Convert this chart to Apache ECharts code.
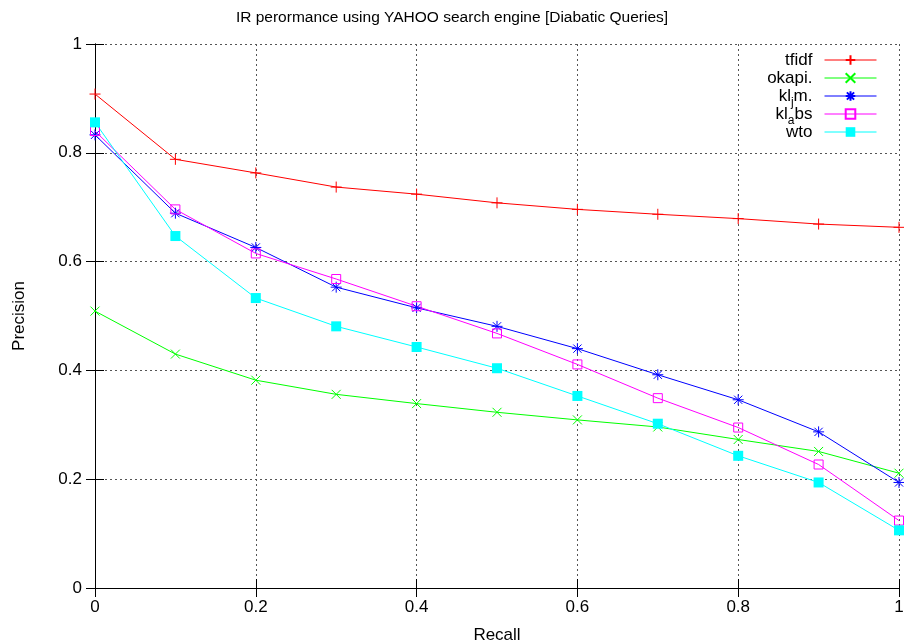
<!DOCTYPE html>
<html>
  <head>
    <meta charset="UTF-8">
    <title>IR performance</title>
    <script src="https://cdn.jsdelivr.net/npm/echarts@6/dist/echarts.min.js"></script>
    <style>
    * {
      margin: 0;
      padding: 0;
    }
    body {
      background: #fff;
    }
    </style>
  </head>
  <body>
    <div id="main" style="width: 904px;height: 644px"></div>
    <script>
// recall points shared by every curve
var recall = [0, 0.1, 0.2, 0.3, 0.4, 0.5, 0.6, 0.7, 0.8, 0.9, 1]

var tfidf = [0.908, 0.788, 0.763, 0.737, 0.724, 0.708, 0.696, 0.687, 0.679, 0.669, 0.663]
var okapi = [0.509, 0.430, 0.382, 0.356, 0.339, 0.323, 0.309, 0.296, 0.273, 0.251, 0.211]
var klJm = [0.833, 0.689, 0.626, 0.553, 0.515, 0.481, 0.440, 0.392, 0.346, 0.287, 0.194]
var klAbs = [0.840, 0.696, 0.615, 0.568, 0.518, 0.468, 0.411, 0.349, 0.295, 0.227, 0.124]
var wto = [0.856, 0.647, 0.533, 0.481, 0.443, 0.404, 0.353, 0.302, 0.243, 0.194, 0.106]

var seriesNames = ['tfidf', 'okapi.', 'kljm.', 'klabs', 'wto']
var legendLabels = {
  'kljm.': 'kl{sub|j}m.',
  'klabs': 'kl{sub|a}bs'
}

var FONT = '"Liberation Sans", Arial, sans-serif'

function pairs(ys) {
  return recall.map(function (x, i) { return [x, ys[i]] })
}

function makeSeries(name, ys, color, symbol, size, filled) {
  return {
    name: name,
    type: 'line',
    data: pairs(ys),
    symbol: symbol,
    symbolSize: size,
    showAllSymbol: true,
    animation: false,
    lineStyle: { color: color, width: 1 },
    itemStyle: {
      color: filled ? color : 'rgba(0,0,0,0)',
      borderColor: color,
      borderWidth: filled ? 0 : 1
    },
    emphasis: { disabled: true }
  }
}

var plusPath = 'path://M-1,0L1,0M0,-1L0,1'
var crossPath = 'path://M-1,-1L1,1M-1,1L1,-1'
var starPath = 'path://M-1,0L1,0M0,-1L0,1M-0.75,-0.75L0.75,0.75M-0.75,0.75L0.75,-0.75'
var boxPath = 'path://M-1,-1L1,-1L1,1L-1,1Z'

var myChart = echarts.init(document.getElementById('main'))

var axisCommon = {
  type: 'value',
  min: 0,
  max: 1,
  interval: 0.2,
  axisLine: { show: true, lineStyle: { color: '#000', width: 1 } },
  axisTick: { show: true, inside: true, length: 9, lineStyle: { color: '#000' } }
}

var option = {
  backgroundColor: '#fff',
  title: {
    text: 'IR perormance using YAHOO search engine [Diabatic Queries]',
    left: 'center',
    top: 5,
    textStyle: { fontFamily: FONT, fontSize: 15.5, fontWeight: 'normal', color: '#000' }
  },
  legend: {
    orient: 'vertical',
    right: 22,
    top: 42,
    align: 'right',
    itemWidth: 52,
    itemHeight: 12,
    itemGap: -8,
    data: seriesNames,
    lineStyle: { width: 1 },
    formatter: function (name) { return legendLabels[name] || name },
    textStyle: {
      fontFamily: FONT,
      fontSize: 17,
      lineHeight: 26,
      color: '#000',
      width: 70,
      align: 'right',
      padding: [0, 7, 0, 0],
      rich: {
        sub: { fontFamily: FONT, fontSize: 12, lineHeight: 6, verticalAlign: 'bottom', padding: [11, 0, 0, 0] }
      }
    }
  },
  grid: { left: 95, right: 5, top: 44, bottom: 56, containLabel: false, outerBoundsMode: 'none' },
  xAxis: [
    Object.assign({}, axisCommon, {
      position: 'bottom',
      name: 'Recall',
      nameLocation: 'middle',
      nameGap: 39,
      nameTextStyle: { fontFamily: FONT, fontSize: 17, color: '#000' },
      axisLabel: { fontFamily: FONT, fontSize: 17, color: '#000', margin: 11 },
      splitLine: { show: true, lineStyle: { color: '#555', type: [2, 3], width: 1 } }
    }),
    Object.assign({}, axisCommon, {
      position: 'top',
      axisLabel: { show: false },
      splitLine: { show: false }
    })
  ],
  yAxis: [
    Object.assign({}, axisCommon, {
      position: 'left',
      name: 'Precision',
      nameLocation: 'middle',
      nameGap: 67,
      nameRotate: 90,
      nameTextStyle: { fontFamily: FONT, fontSize: 17, color: '#000' },
      axisLabel: { fontFamily: FONT, fontSize: 17, color: '#000', margin: 13 },
      splitLine: { show: true, lineStyle: { color: '#555', type: [2, 3], width: 1 } }
    }),
    Object.assign({}, axisCommon, {
      position: 'right',
      axisLabel: { show: false },
      splitLine: { show: false }
    })
  ],
  series: [
    makeSeries('tfidf', tfidf, '#ff0000', plusPath, 11, false),
    makeSeries('okapi.', okapi, '#00ff00', crossPath, 9, false),
    makeSeries('kljm.', klJm, '#0000ff', starPath, 11, false),
    makeSeries('klabs', klAbs, '#ff00ff', boxPath, 9, false),
    makeSeries('wto', wto, '#00ffff', 'rect', 10, true)
  ]
}

myChart.setOption(option)
    </script>
  </body>
</html>
